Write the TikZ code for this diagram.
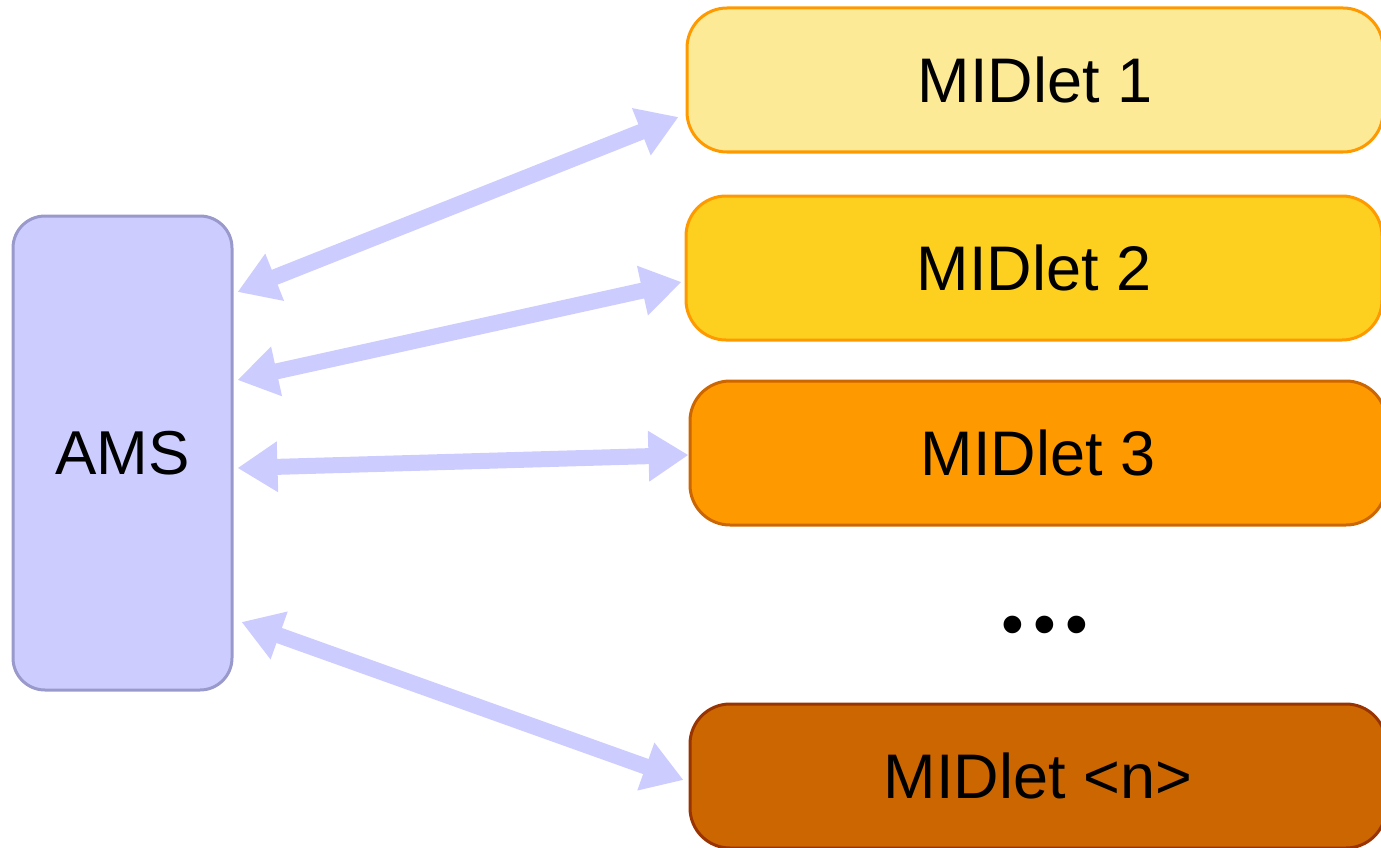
\documentclass[tikz,border=0pt]{standalone}
\usepackage{fontspec}
\setmainfont{Liberation Sans}
\usetikzlibrary{arrows.meta,calc}
\definecolor{amsfill}{HTML}{CCCCFF}
\definecolor{amsdraw}{HTML}{9999CC}
\definecolor{mfillA}{HTML}{FCEA96}
\definecolor{mfillB}{HTML}{FDD020}
\definecolor{mfillC}{HTML}{FF9900}
\definecolor{mfillD}{HTML}{CC6600}
\definecolor{mdrawA}{HTML}{FF9900}
\definecolor{mdrawC}{HTML}{CC6600}
\definecolor{mdrawD}{HTML}{993300}
\begin{document}
\begin{tikzpicture}[x=1pt,y=-1pt,
  midbox/.style={rounded corners=40pt,line width=3pt,minimum width=696pt,minimum height=144pt,inner sep=0pt,font=\fontsize{63}{70}\selectfont},
  amsbox/.style={rounded corners=32pt,line width=3pt,fill=amsfill,draw=amsdraw,minimum width=219pt,minimum height=474pt,inner sep=0pt,font=\fontsize{62}{70}\selectfont},
  link/.style={draw=amsfill,line width=16pt,{Triangle[width=48pt,length=40pt]}-{Triangle[width=48pt,length=40pt]},shorten <=0pt,shorten >=0pt}
]
\useasboundingbox (0,0) rectangle (1381,848);
\node[amsbox] (ams) at (122.5,453) {AMS};
\node[midbox,fill=mfillA,draw=mdrawA] (m1) at (1035,80) {MIDlet 1};
\node[midbox,fill=mfillB,draw=mdrawA] (m2) at (1034,268) {MIDlet 2};
\node[midbox,fill=mfillC,draw=mdrawC] (m3) at (1038,453) {MIDlet 3};
\node[midbox,fill=mfillD,draw=mdrawD] (mn) at (1038,776) {MIDlet <n>};
\node[font=\fontsize{65}{70}\selectfont,inner sep=0pt] (dots) at (1045,631) {•\hspace{9pt}•\hspace{9pt}•};
\draw[link] ($(ams.east)+(4,-161)$) -- ($(m1.west)+(-7,37)$);
\draw[link] ($(ams.east)+(4,-73)$) -- ($(m2.west)+(-3,14)$);
\draw[link] ($(ams.east)+(4,15)$) -- ($(m3.west)+(0,2)$);
\draw[link] ($(ams.east)+(8,169)$) -- ($(mn.west)+(-5,4)$);
\end{tikzpicture}
\end{document}
